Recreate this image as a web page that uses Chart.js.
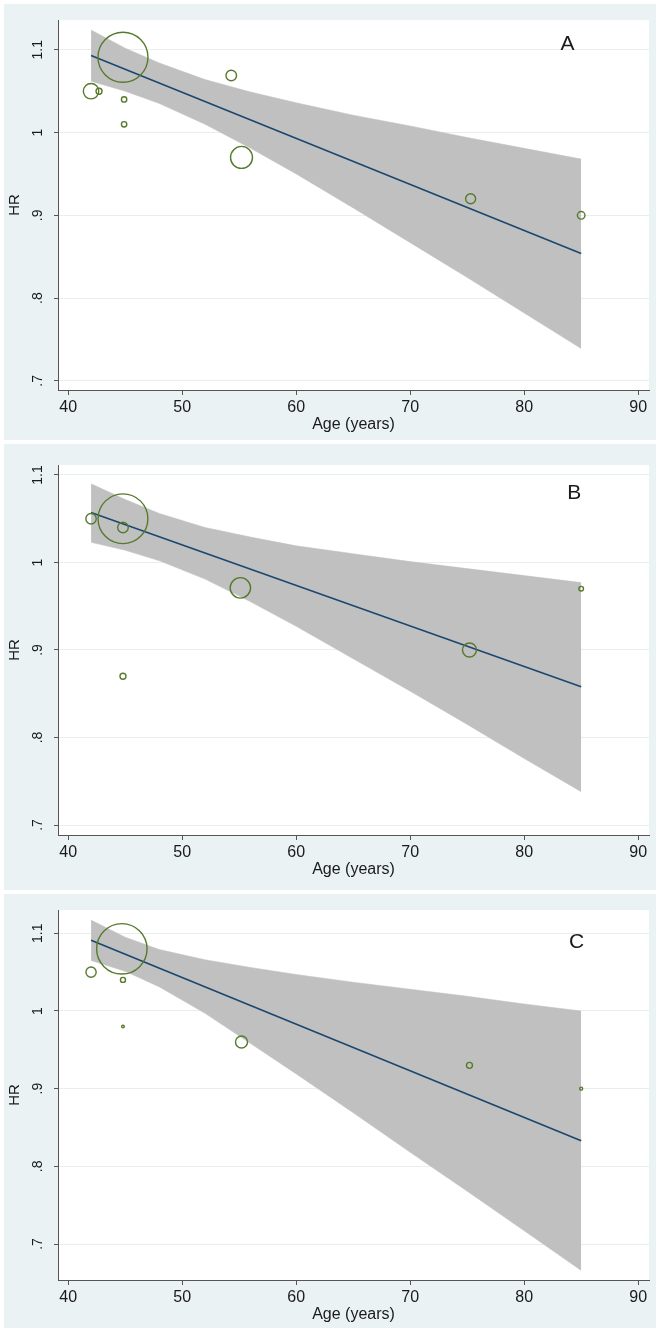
<!DOCTYPE html>
<html>
<head>
<meta charset="utf-8">
<script src="https://cdn.jsdelivr.net/npm/chart.js@4.4.0/dist/chart.umd.min.js"></script>
<style>
  html, body { margin: 0; padding: 0; background: #fff; }
  #page { position: relative; width: 672px; height: 1333px; }
  canvas { position: absolute; }
</style>
</head>
<body>
<div id="page">
  <canvas id="chartA"></canvas>
  <canvas id="chartB"></canvas>
  <canvas id="chartC"></canvas>
</div>
<script>
// axes
const xTickValues = [40, 50, 60, 70, 80, 90];
const xTickLabels = ['40', '50', '60', '70', '80', '90'];
const yTickValues = [0.7, 0.8, 0.9, 1.0, 1.1];
const yTickLabels = ['.7', '.8', '.9', '1', '1.1'];

// ages where the confidence band was read, and the ends of the fitted line
const bandAges = [42, 45, 48, 52, 56, 60, 65, 70, 75, 80, 85];
const fitAges = [42, 85];

// panel A
const ageA = [44.8, 42.0, 42.7, 44.9, 44.9, 54.3, 55.2, 75.3, 85.0];
const hrA = [1.091, 1.050, 1.050, 1.040, 1.010, 1.069, 0.970, 0.920, 0.900];
const weightA = [69.4, 6.6, 1.0, 0.8, 0.8, 3.1, 13.4, 2.8, 1.6];
const fitA = [1.093, 0.854];
const upperA = [1.124, 1.102, 1.084, 1.064, 1.049, 1.036, 1.021, 1.008, 0.994, 0.981, 0.968];
const lowerA = [1.062, 1.050, 1.035, 1.010, 0.981, 0.950, 0.909, 0.867, 0.825, 0.782, 0.739];

// panel B
const ageB = [42.0, 44.8, 44.8, 55.1, 44.8, 75.2, 85.0];
const hrB = [1.050, 1.050, 1.040, 0.971, 0.870, 0.900, 0.970];
const weightB = [3.0, 68.9, 3.1, 11.6, 1.0, 5.4, 0.6];
const fitB = [1.057, 0.858];
const upperB = [1.090, 1.072, 1.056, 1.040, 1.029, 1.019, 1.010, 1.001, 0.993, 0.985, 0.977];
const lowerB = [1.023, 1.014, 1.002, 0.981, 0.955, 0.927, 0.890, 0.853, 0.815, 0.776, 0.738];

// panel C
const ageC = [44.7, 42.0, 44.8, 44.8, 55.2, 75.2, 85.0];
const hrC = [1.080, 1.050, 1.040, 0.980, 0.960, 0.930, 0.900];
const weightC = [70.6, 2.9, 0.7, 0.2, 4.0, 1.0, 0.25];
const fitC = [1.091, 0.833];
const upperC = [1.117, 1.095, 1.079, 1.066, 1.056, 1.047, 1.037, 1.028, 1.019, 1.009, 1.000];
const lowerC = [1.065, 1.051, 1.031, 0.997, 0.958, 0.919, 0.869, 0.818, 0.768, 0.717, 0.666];

const FONT = '"Liberation Sans", Arial, sans-serif';
const TEXT = '#1a1a1a';
const AXIS = '#555555';
const GRID = '#e6eef0';
const OUTER = '#eaf2f3';
const BAND = '#c0c0c0';
const NAVY = '#1a476f';
const GREEN = '#567a2c';
const BUBBLE_SCALE = 3; // radius = scale * sqrt(weight)

const panels = [
  { id: 'chartA', letter: 'A', top: 4, bottom: 440, plotTop: 20, plotBottom: 390,
    yMin: 0.689, yMax: 1.136, letterAt: [83.8, 1.100],
    age: ageA, hr: hrA, weight: weightA, fit: fitA, upper: upperA, lower: lowerA },
  { id: 'chartB', letter: 'B', top: 444, bottom: 890, plotTop: 465, plotBottom: 835,
    yMin: 0.6886, yMax: 1.1114, letterAt: [84.4, 1.073],
    age: ageB, hr: hrB, weight: weightB, fit: fitB, upper: upperB, lower: lowerB },
  { id: 'chartC', letter: 'C', top: 894, bottom: 1328, plotTop: 910, plotBottom: 1280,
    yMin: 0.6537, yMax: 1.130, letterAt: [84.6, 1.081],
    age: ageC, hr: hrC, weight: weightC, fit: fitC, upper: upperC, lower: lowerC }
];

const panelPlugin = {
  id: 'panel',
  beforeDraw(chart) {
    const ctx = chart.ctx, a = chart.chartArea;
    ctx.save();
    ctx.fillStyle = OUTER;
    ctx.fillRect(0, 0, chart.width, chart.height);
    ctx.fillStyle = '#ffffff';
    ctx.fillRect(a.left, a.top, a.right - a.left, a.bottom - a.top);
    ctx.restore();
  },
  afterDraw(chart) {
    const ctx = chart.ctx, xs = chart.scales.x, ys = chart.scales.y;
    const p = chart.options.plugins.panel;
    ctx.save();
    ctx.fillStyle = TEXT;
    ctx.font = '14px ' + FONT;
    ctx.textAlign = 'center';
    ctx.textBaseline = 'middle';
    yTickValues.forEach((v, i) => {
      ctx.save();
      ctx.translate(34, ys.getPixelForValue(v));
      ctx.rotate(-Math.PI / 2);
      ctx.fillText(yTickLabels[i], 0, 0);
      ctx.restore();
    });
    ctx.font = '21px ' + FONT;
    ctx.textBaseline = 'alphabetic';
    ctx.fillText(p.letter, xs.getPixelForValue(p.letterAt[0]), ys.getPixelForValue(p.letterAt[1]));
    ctx.restore();
  }
};

panels.forEach(p => {
  const canvas = document.getElementById(p.id);
  const height = p.bottom - p.top;
  canvas.width = 652;
  canvas.height = height;
  canvas.style.left = '4px';
  canvas.style.top = p.top + 'px';
  const axisH = p.bottom - p.plotBottom;

  const upperPts = bandAges.map((a, i) => ({ x: a, y: p.upper[i] }));
  const lowerPts = bandAges.map((a, i) => ({ x: a, y: p.lower[i] }));
  const fitPts = fitAges.map((a, i) => ({ x: a, y: p.fit[i] }));
  const bubbles = p.age.map((a, i) => ({ x: a, y: p.hr[i], r: BUBBLE_SCALE * Math.sqrt(p.weight[i]) }));

  new Chart(canvas, {
    type: 'line',
    data: {
      datasets: [
        { type: 'line', data: upperPts, fill: '+1', backgroundColor: BAND, borderColor: BAND,
          borderWidth: 0.5, pointRadius: 0, tension: 0, order: 3 },
        { type: 'line', data: lowerPts, fill: false, borderColor: BAND,
          borderWidth: 0.5, pointRadius: 0, tension: 0, order: 3 },
        { type: 'line', data: fitPts, fill: false, borderColor: NAVY,
          borderWidth: 1.6, pointRadius: 0, tension: 0, order: 2 },
        { type: 'bubble', data: bubbles, backgroundColor: 'rgba(0,0,0,0)', borderColor: GREEN,
          borderWidth: 1.4, order: 1 }
      ]
    },
    options: {
      responsive: false,
      animation: false,
      events: [],
      layout: { autoPadding: false, padding: { top: p.plotTop - p.top, right: 7, left: 0, bottom: 0 } },
      plugins: {
        legend: { display: false },
        tooltip: { enabled: false },
        panel: { letter: p.letter, letterAt: p.letterAt }
      },
      scales: {
        x: {
          type: 'linear',
          min: 39.1,
          max: 90.95,
          afterBuildTicks: s => { s.ticks = xTickValues.map(v => ({ value: v })); },
          afterFit: s => { s.height = axisH; s.paddingLeft = 0; s.paddingRight = 0; },
          ticks: {
            color: TEXT,
            font: { family: FONT, size: 16 },
            padding: 3,
            maxRotation: 0,
            autoSkip: false,
            callback: (v, i) => xTickLabels[i]
          },
          grid: { drawOnChartArea: false, drawTicks: true, tickLength: 5, tickColor: AXIS },
          border: { color: AXIS, width: 1 },
          title: {
            display: true, text: 'Age (years)', color: TEXT,
            font: { family: FONT, size: 16 },
            padding: { top: 0, bottom: axisH - 34 - 10 }
          }
        },
        y: {
          type: 'linear',
          min: p.yMin,
          max: p.yMax,
          afterBuildTicks: s => { s.ticks = yTickValues.map(v => ({ value: v })); },
          afterFit: s => { s.width = 54; s.paddingTop = 0; s.paddingBottom = 0; },
          ticks: { display: false },
          grid: { color: GRID, lineWidth: 1, drawTicks: true, tickLength: 4, tickColor: AXIS },
          border: { color: AXIS, width: 1 },
          title: {
            display: true, text: 'HR', color: TEXT,
            font: { family: FONT, size: 15 },
            padding: { top: 2, bottom: 0 }
          }
        }
      }
    },
    plugins: [panelPlugin]
  });
});
</script>
</body>
</html>
